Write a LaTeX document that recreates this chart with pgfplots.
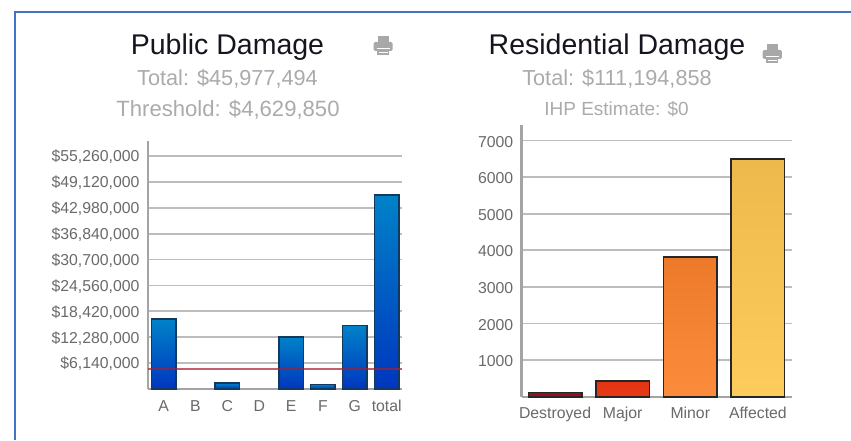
\documentclass[border=0pt]{standalone}
\usepackage{pgfplots}
\pgfplotsset{compat=1.18}
\usepackage{fontspec}
\setmainfont{Liberation Sans}
\definecolor{frame}{HTML}{4472C4}
\definecolor{titlec}{HTML}{15151F}
\definecolor{subc}{HTML}{ABABAB}
\definecolor{tickc}{HTML}{6A6A6A}
\definecolor{gridc}{HTML}{BDBDBD}
\definecolor{axisc}{HTML}{A4A4A4}
\definecolor{iconc}{HTML}{A8A8A8}
\definecolor{bluetop}{HTML}{0082C8}
\definecolor{bluebot}{HTML}{0036BE}
\definecolor{bluedraw}{HTML}{123A5E}
\definecolor{thr}{HTML}{A81E30}
\newcommand{\fs}[1]{\fontsize{#1}{#1}\selectfont}
\newcommand{\printicon}[2]{%
  \begin{scope}[shift={(#1,#2)}]
    \fill[iconc] (4,13) rectangle (15.5,19.3);
    \fill[iconc,rounded corners=1.5pt] (0,4) rectangle (19.2,13);
    \fill[iconc] (3.5,0) rectangle (15.7,7);
    \fill[white] (3,5.6) rectangle (16.2,6.8);
    \fill[white] (5,2) rectangle (14.2,3);
  \end{scope}}
\pgfplotsset{damage/.style={
  scale only axis,
  axis x line=bottom, axis y line=left,
  axis line style={-,draw=axisc,line width=2.5pt},
  ymajorgrids, major grid style={draw=gridc,line width=1.8pt},
  major tick length=0pt,
  ymin=0,
  xtick=data,
  ticklabel style={text=tickc,font=\fs{15.8}},
  xticklabel style={anchor=base,yshift=-22pt},
  yticklabel style={anchor=east,xshift=-5pt,yshift=-1pt},
  clip=false,
}}
\begin{document}
\begin{tikzpicture}[x=1pt,y=1pt]
\useasboundingbox (0,0) rectangle (851,440);
\fill[white] (0,0) rectangle (851,440);
\draw[frame,line width=2pt] (15,0) -- (15,428) -- (851,428);

\node[anchor=base,text=titlec,inner sep=0] at (227.5,385.5) {\fs{28.5}Public Damage};
\node[anchor=base,text=subc,inner sep=0] at (227.5,354.3) {\fs{21.7}Total: \$45,977,494};
\node[anchor=base,text=subc,inner sep=0] at (228,323.3) {\fs{22.1}Threshold: \$4,629,850};
\printicon{373.5}{385}

\node[anchor=base,text=titlec,inner sep=0] at (617,385.5) {\fs{28.5}Residential Damage};
\node[anchor=base,text=subc,inner sep=0] at (617,354.3) {\fs{21.7}Total: \$111,194,858};
\node[anchor=base,text=subc,inner sep=0] at (616.5,324.3) {\fs{19}IHP Estimate: \$0};
\printicon{762.7}{377}

\begin{axis}[damage,
  at={(148pt,51pt)}, anchor=south west,
  width=254pt, height=248pt,
  xmin=-0.49, xmax=7.48, ymax=58800000,
  xtick={0,1,2,3,4,5,6,7},
  xticklabels={A,B,C,D,E,F,G,total},
  ytick={6140000,12280000,18420000,24560000,30700000,36840000,42980000,49120000,55260000},
  yticklabels={{\$6,140,000},{\$12,280,000},{\$18,420,000},{\$24,560,000},{\$30,700,000},{\$36,840,000},{\$42,980,000},{\$49,120,000},{\$55,260,000}},
  scaled y ticks=false,
]
\addplot[ybar,bar width=24.5pt,bar shift=0pt,draw=bluedraw,line width=1.5pt,top color=bluetop,bottom color=bluebot]
  coordinates {(0,16600000)};
\addplot[ybar,bar width=24.5pt,bar shift=0pt,draw=bluedraw,line width=1.5pt,top color=bluetop,bottom color=bluebot]
  coordinates {(2,1400000)};
\addplot[ybar,bar width=24.5pt,bar shift=0pt,draw=bluedraw,line width=1.5pt,top color=bluetop,bottom color=bluebot]
  coordinates {(4,12300000)};
\addplot[ybar,bar width=24.5pt,bar shift=0pt,draw=bluedraw,line width=1.5pt,top color=bluetop,bottom color=bluebot]
  coordinates {(5,1100000)};
\addplot[ybar,bar width=24.5pt,bar shift=0pt,draw=bluedraw,line width=1.5pt,top color=bluetop,bottom color=bluebot]
  coordinates {(6,15100000)};
\addplot[ybar,bar width=24.5pt,bar shift=0pt,draw=bluedraw,line width=1.5pt,top color=bluetop,bottom color=bluebot]
  coordinates {(7,45977494)};
\addplot[sharp plot,no marks,draw=thr,opacity=0.7,line width=2pt]
  coordinates {(-0.49,4629850) (7.48,4629850)};
\end{axis}

\begin{axis}[damage,
  at={(521.7pt,43.2pt)}, anchor=south west,
  width=270pt, height=271.6pt,
  xmin=-0.493, xmax=3.5, ymax=7420,
  xtick={0,1,2,3},
  xticklabels={Destroyed,Major,Minor,Affected},
  ytick={1000,2000,3000,4000,5000,6000,7000},
  yticklabels={1000,2000,3000,4000,5000,6000,7000},
]
\addplot[ybar,bar width=53.5pt,bar shift=0pt,draw=black!85,line width=1.5pt,top color={rgb,255:red,150;green,10;blue,30},bottom color={rgb,255:red,165;green,12;blue,34}]
  coordinates {(0,115)};
\addplot[ybar,bar width=53.5pt,bar shift=0pt,draw=black!85,line width=1.5pt,top color={rgb,255:red,226;green,52;blue,20},bottom color={rgb,255:red,232;green,58;blue,22}]
  coordinates {(1,434)};
\addplot[ybar,bar width=53.5pt,bar shift=0pt,draw=black!85,line width=1.5pt,top color={rgb,255:red,236;green,122;blue,42},bottom color={rgb,255:red,252;green,140;blue,60}]
  coordinates {(2,3820)};
\addplot[ybar,bar width=53.5pt,bar shift=0pt,draw=black!85,line width=1.5pt,top color={rgb,255:red,238;green,185;blue,76},bottom color={rgb,255:red,252;green,204;blue,92}]
  coordinates {(3,6490)};
\end{axis}
\end{tikzpicture}
\end{document}
